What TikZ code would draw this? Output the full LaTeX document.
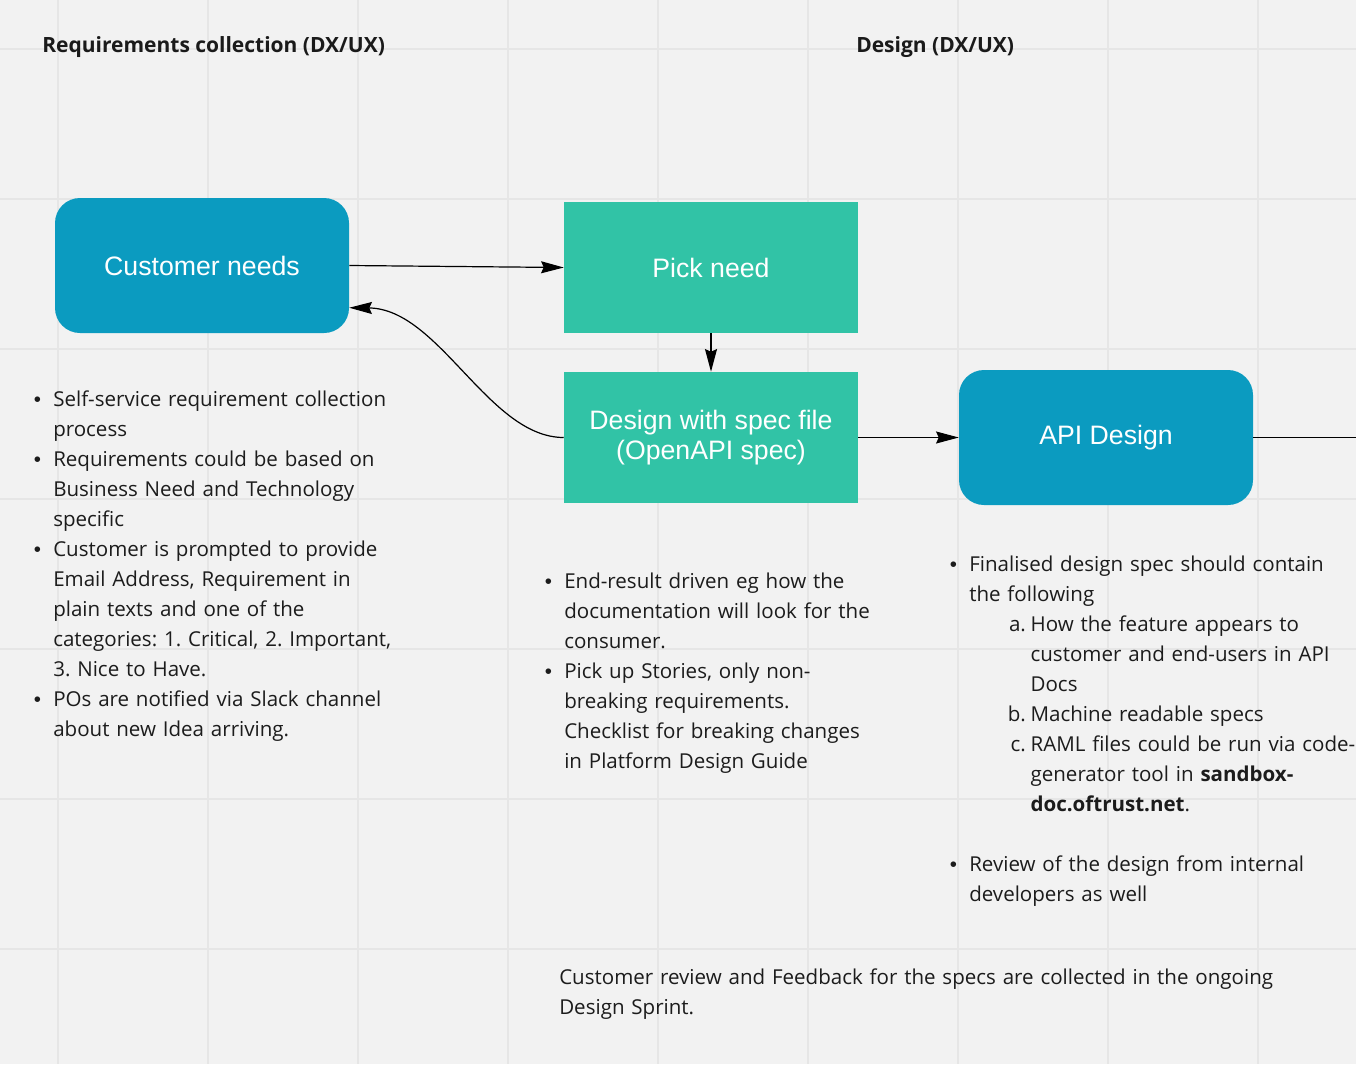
\documentclass[tikz,border=0pt]{standalone}
\usepackage{fontspec}
\usepackage{tikz}
\usetikzlibrary{arrows.meta}
\setmainfont{Open Sans}
\newfontfamily\boxfont{Liberation Sans}
\frenchspacing
% bullet and indents for the note lists
\newcommand{\bulpt}{\makebox[15pt][l]{\hspace*{0.5pt}{\boxfont\textbullet}}}
\newcommand{\indpt}{\hspace*{15pt}}
\newcommand{\subpt}[1]{\makebox[57.5pt][r]{#1}\hspace*{3.5pt}}
\newcommand{\subind}{\hspace*{61pt}}

\begin{document}
\begin{tikzpicture}[x=0.75pt,y=0.75pt,yscale=-1,xscale=1,
  bgfill/.style={fill={rgb, 255:red, 242; green, 242; blue, 242 }},
  gridline/.style={draw={rgb, 255:red, 230; green, 230; blue, 230 }, line width=1.3pt},
  bluebox/.style={fill={rgb, 255:red, 11; green, 155; blue, 192 }, rounded corners=18.75pt, minimum width=220.5pt, minimum height=101.25pt, text=white, font=\boxfont\fontsize{20}{22.5}\selectfont, align=center},
  tealbox/.style={fill={rgb, 255:red, 49; green, 195; blue, 166 }, minimum width=220.5pt, minimum height=98.25pt, text=white, font=\boxfont\fontsize{20}{22.5}\selectfont, align=center},
  arr/.style={-{Stealth[length=17pt,width=9pt,inset=2pt]}, line width=0.9pt},
  headtxt/.style={anchor=base west, inner sep=0pt, text={rgb, 255:red, 26; green, 26; blue, 26 }, font=\bfseries\fontsize{15.75}{22.5}\selectfont},
  bodytxt/.style={anchor=base west, inner sep=0pt, text width=320pt, align=left, text={rgb, 255:red, 28; green, 28; blue, 28 }, font=\fontsize{15.4}{22.5}\selectfont}
]
\useasboundingbox (0,0) rectangle (1356,1064);

%Background and grid
\fill [bgfill] (0,0) rectangle (1356,1064);
\foreach \gx in {58,208,...,1258} \draw [gridline] (\gx,0) -- (\gx,1064);
\foreach \gy in {49,199,...,949} \draw [gridline] (0,\gy) -- (1356,\gy);

%Shape: Rounded Rect
\draw (202,265.5) node [bluebox] (cust) {Customer needs};
%Shape: Rectangle
\draw (711,267.5) node [tealbox] (pick) {Pick need};
%Shape: Rectangle
\draw (711,437.5) node [tealbox] (dsg) {Design with spec file\\(OpenAPI spec)};
%Shape: Rounded Rect
\draw (1106,437.5) node [bluebox] (api) {API Design};
\coordinate (nxt) at (1356,437.5);

%Straight Lines
\draw [arr] (cust.east) -- (pick.west);
\draw [arr] (pick.south) -- (dsg.north);
\draw [arr] (dsg.east) -- (api.west);
\draw [line width=0.9pt] (api.east) -- (nxt);
%Curve Lines
\draw [arr] (dsg.west) .. controls +(-75,0) and +(90,1) .. (cust.-16.6);

% Text Node
\draw (42,52) node [headtxt] (hreq) {Requirements collection (DX/UX)};
% Text Node
\draw (856,52) node [headtxt] (hdsg) {Design (DX/UX)};

% Text Node
\draw (33,406) node [bodytxt] (nreq) {\bulpt Self-service requirement collection\\
\indpt process\\
\bulpt Requirements could be based on\\
\indpt Business Need and Technology\\
\indpt specific\\
\bulpt Customer is prompted to provide\\
\indpt Email Address, Requirement in\\
\indpt plain texts and one of the\\
\indpt categories: 1. Critical, 2. Important,\\
\indpt 3. Nice to Have.\\
\bulpt POs are notified via Slack channel\\
\indpt about new Idea arriving.};
% Text Node
\draw (544,588) node [bodytxt] (npick) {\bulpt End-result driven eg how the\\
\indpt documentation will look for the\\
\indpt consumer.\\
\bulpt Pick up Stories, only non-\\
\indpt breaking requirements.\\
\indpt Checklist for breaking changes\\
\indpt in Platform Design Guide};
% Text Node
\draw (949,571) node [bodytxt] (napi) {\bulpt Finalised design spec should contain\\
\indpt the following\\
\subpt{a.}How the feature appears to\\
\subind customer and end-users in API\\
\subind Docs\\
\subpt{b.}Machine readable specs\\
\subpt{c.}RAML files could be run via code-\\
\subind generator tool in \textbf{sandbox-}\\
\subind \textbf{doc.oftrust.net}.\\
\mbox{}\\
\bulpt Review of the design from internal\\
\indpt developers as well};
% Text Node
\draw (559,984) node [bodytxt, text width=560pt] (nfb) {Customer review and Feedback for the specs are collected in the ongoing\\
Design Sprint.};

\end{tikzpicture}
\end{document}
